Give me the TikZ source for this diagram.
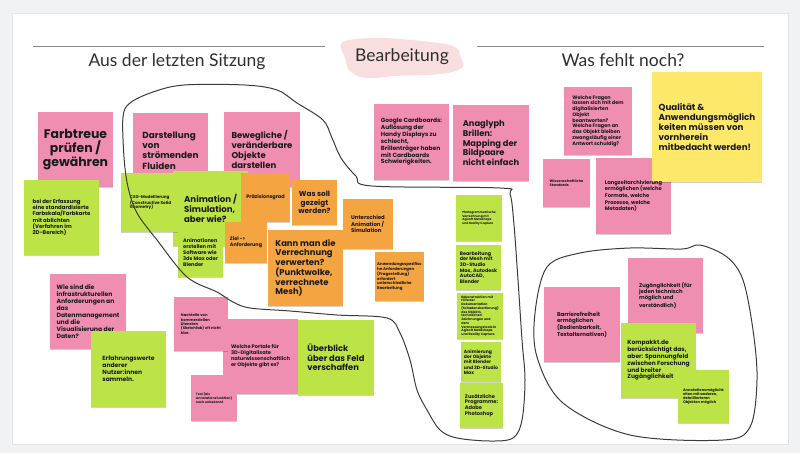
\documentclass[tikz,border=0pt]{standalone}
\usepackage{fontspec}
\usetikzlibrary{shadows}
\newfontfamily\nf{Poppins}
\newfontfamily\tf{Lato}
\definecolor{bgc}{HTML}{F1F2F4}
\definecolor{framec}{HTML}{E2E4E8}
\definecolor{pinkc}{HTML}{F08EB2}
\definecolor{greenc}{HTML}{BDE446}
\definecolor{orangec}{HTML}{F5A442}
\definecolor{yellowc}{HTML}{FEE86A}
\definecolor{blobc}{HTML}{F8DEDE}
\definecolor{notetext}{HTML}{1A1A1A}
\definecolor{titlec}{HTML}{2F2F2F}
\definecolor{rulec}{HTML}{8A8A8A}
\definecolor{loopc}{HTML}{3C3C3C}
\tikzset{
  notebox/.style={rectangle, inner sep=0pt, align=left, text=notetext,
    drop shadow={shadow xshift=0pt, shadow yshift=-1pt, opacity=0.18, fill=black}},
  titletext/.style={font=\tf\fontsize{17.5pt}{20pt}\selectfont, text=titlec, inner sep=0pt, anchor=base},
  rulerline/.style={draw=rulec, line width=0.9pt},
  loopline/.style={draw=loopc, line width=1pt, line cap=round, line join=round}
}
% [options]{name}{x1}{y1}{x2}{y2}{colour}{font size}{text}
\newcommand{\stick}[9][]{%
  \node[notebox, fill=#7, minimum width={(#5-#3)*1pt}, minimum height={(#6-#4)*1pt},
    font=\nf\bfseries\fontsize{\dimexpr#8pt*104/100\relax}{\dimexpr#8pt*120/100\relax}\selectfont, #1]
    (#2) at ({(#3+#5)/2},{(#4+#6)/2}) {#9};}
\begin{document}
\begin{tikzpicture}[x=1pt,y=-1pt]
\useasboundingbox (0,0) rectangle (800,453);
\fill[bgc] (0,0) rectangle (800,453);
\filldraw[fill=white, draw=framec, line width=0.6pt] (12,13) rectangle (788,444);
% header
\coordinate (l1a) at (33,46); \coordinate (l1b) at (325,46);
\coordinate (l2a) at (477,46); \coordinate (l2b) at (764,46);
\draw[rulerline] (l1a) -- (l1b);
\draw[rulerline] (l2a) -- (l2b);
\fill[blobc] plot[smooth cycle, tension=0.6] coordinates {(343,42) (380,38) (430,42) (455,47) (461,58) (462,68) (440,74) (395,76) (366,78) (350,71) (345,58)};
\node[titletext] (t1) at (177,66) {Aus der letzten Sitzung};
\node[titletext] (t2) at (402,61) {Bearbeitung};
\node[titletext] (t3) at (623,66) {Was fehlt noch?};
% left group
\stick[align=center]{farb}{38}{112}{113}{187}{pinkc}{12}{Farbtreue\\prüfen /\\gewähren}
\stick{erfass}{24}{180}{99}{255}{greenc}{5.2}{bei der Erfassung\\eine standardisierte\\Farbskala/Farbkarte\\mit ablichten\\(Verfahren im\\2D-Bereich)}
\stick{darst}{133}{113}{208}{188}{pinkc}{8.5}{Darstellung\\von\\strömenden\\Fluiden}
\stick{beweg}{224}{112}{300}{187}{pinkc}{8.2}{Bewegliche /\\veränderbare\\Objekte\\darstellen}
\stick{anim}{173}{171}{248}{246}{greenc}{8.3}{Animation /\\Simulation,\\aber wie?}
\stick{csg}{121}{173}{180}{232}{greenc}{4}{CSG-Modellierung\\(Constructive Solid\\Geometry)}
\stick{animsw}{178}{228}{223}{277}{greenc}{4.9}{Animationen\\erstellen mit\\Software wie\\3ds Max oder\\Blender}
\stick{praez}{241}{173}{290}{222}{orangec}{4.8}{Präzisionsgrad}
\stick{ziel}{225}{222}{267}{263}{orangec}{4.7}{Ziel ->\\Anforderung}
\stick[align=center]{wassoll}{292}{180}{337}{225}{orangec}{7}{Was soll\\gezeigt\\werden?}
\stick{kann}{268}{230}{343}{306}{orangec}{8.1}{Kann man die\\Verrechnung\\verwerten?\\(Punktwolke,\\verrechnete\\Mesh)}
\stick{unter}{343}{199}{393}{249}{orangec}{5.2}{Unterschied\\Animation /\\Simulation}
\stick{anwend}{375}{252}{424}{301}{orangec}{3.8}{Anwendungsspezifisc\\he Anforderungen\\(Fragestellung)\\erfordert\\unterschiedliche\\Bearbeitung}
% middle
\stick{google}{374}{104}{449}{180}{pinkc}{5.7}{Google Cardboards:\\Auflösung der\\Handy Displays zu\\schlecht,\\Brillenträger haben\\mit Cardboards\\Schwierigkeiten.}
\stick{anagl}{453}{105}{529}{181}{pinkc}{8}{Anaglyph\\Brillen:\\Mapping der\\Bildpaare\\nicht einfach}
\stick{photo}{456}{195}{502}{241}{greenc}{2.9}{Photogrammetrische\\Verrechnung mit\\Agisoft Metashape\\und Reality Capture}
\stick{mesh}{456}{245}{501}{290}{greenc}{4.7}{Bearbeitung\\der Mesh mit\\3D-Studio\\Max, Autodesk\\AutoCAD,\\Blender}
\stick{rekon}{457}{293}{503}{339}{greenc}{3.1}{Rekonstruktion mit\\Hilfe der\\Dokumentation\\(Schadenskartierung)\\des Objekts,\\technischen\\Zeichnungen und\\dem\\Vermessungstools in\\Agisoft Metashape\\und Reality Capture}
\stick{animier}{461}{342}{501}{382}{greenc}{4.4}{Animierung\\der Objekte\\mit Blender\\und 3D-Studio\\Max}
\stick{zusatz}{460}{383}{503}{428}{greenc}{4.9}{Zusätzliche\\Programme:\\Adobe\\Photoshop}
% lower left
\stick{wiesind}{50}{274}{126}{349}{pinkc}{5.9}{Wie sind die\\infrastrukturellen\\Anforderungen an\\das\\Datenmanagement\\und die\\Visualisierung der\\Daten?}
\stick{erfahr}{91}{331}{166}{407}{greenc}{5.8}{Erfahrungswerte\\anderer\\Nutzer:innen\\sammeln.}
\stick{portale}{223}{319}{298}{394}{pinkc}{4.9}{Welche Portale für\\3D-Digitalisate\\naturwissenschaftlich\\er Objekte gibt es?}
\stick{nachteil}{174}{297}{228}{351}{pinkc}{3.6}{Nachteile von\\kommerziellen\\Diensten\\(Sketchfab) oft nicht\\klar.}
\stick{tool}{191}{375}{237}{421}{pinkc}{3.1}{Tool (als\\Annotationsfunktion)\\noch unbekannt}
\stick{ueber}{298}{320}{374}{395}{greenc}{8}{Überblick\\über das Feld\\verschaffen}
% right upper
\stick{fragen}{564}{87}{632}{155}{pinkc}{4.8}{Welche Fragen\\lassen sich mit dem\\digitalisierten\\Objekt\\beantworten?\\Welche Fragen an\\das Objekt bleiben\\zwangsläufig einer\\Antwort schuldig?}
\stick{wiss}{543}{159}{590}{207}{pinkc}{3.4}{Wissenschaftliche\\Standards}
\stick{lang}{596}{158}{671}{234}{pinkc}{5}{}
\stick{qual}{652}{72}{762}{182}{yellowc}{8.4}{Qualität \&\\Anwendungsmöglich\\keiten müssen von\\vornherein\\mitbedacht werden!}
\node[align=left, text=notetext, inner sep=0pt, font=\nf\bfseries\fontsize{5.2pt}{6.6pt}\selectfont] (langtext) at (lang.center) {Langzeitarchivierung\\ermöglichen (welche\\Formate, welche\\Prozesse, welche\\Metadaten)};
% right lower
\stick{zugang}{628}{258}{703}{333}{pinkc}{5.1}{Zugänglichkeit (für\\jeden technisch\\möglich und\\verständlich)}
\stick{barriere}{544}{287}{620}{362}{pinkc}{5.3}{Barrierefreiheit\\ermöglichen\\(Bedienbarkeit,\\Textalternativen)}
\stick{kompakkt}{621}{323}{696}{398}{greenc}{5.7}{Kompakkt.de\\berücksichtigt das,\\aber: Spannungfeld\\zwischen Forschung\\und breiter\\Zugänglichkeit}
\stick{annot}{678}{370}{729}{423}{greenc}{3.5}{Annotationsmöglichk\\eiten mit anderen,\\detaillierteren\\Objekten möglich}
% hand-drawn loops
\draw[loopline] plot[smooth cycle, tension=0.55] coordinates {(124,157) (123,117) (130,103) (153,92) (184,85) (245,85) (277,90) (297,103) (323,120) (332,138) (341,158) (356,176) (372,186) (500,188) (510,194) (514,225) (518,280) (522,340) (525,380) (522,420) (513,438) (490,441) (457,438) (440,430) (427,410) (417,390) (410,360) (400,333) (387,318) (337,315) (290,311) (250,308) (233,302) (217,292) (187,277) (157,240) (137,213) (128,187)};
\draw[loopline] plot[smooth cycle, tension=0.55] coordinates {(700,245) (727,257) (743,280) (753,330) (757,380) (750,427) (723,440) (630,435) (563,403) (537,357) (535,313) (547,267) (580,253) (630,248) (682,249)};
\end{tikzpicture}
\end{document}
